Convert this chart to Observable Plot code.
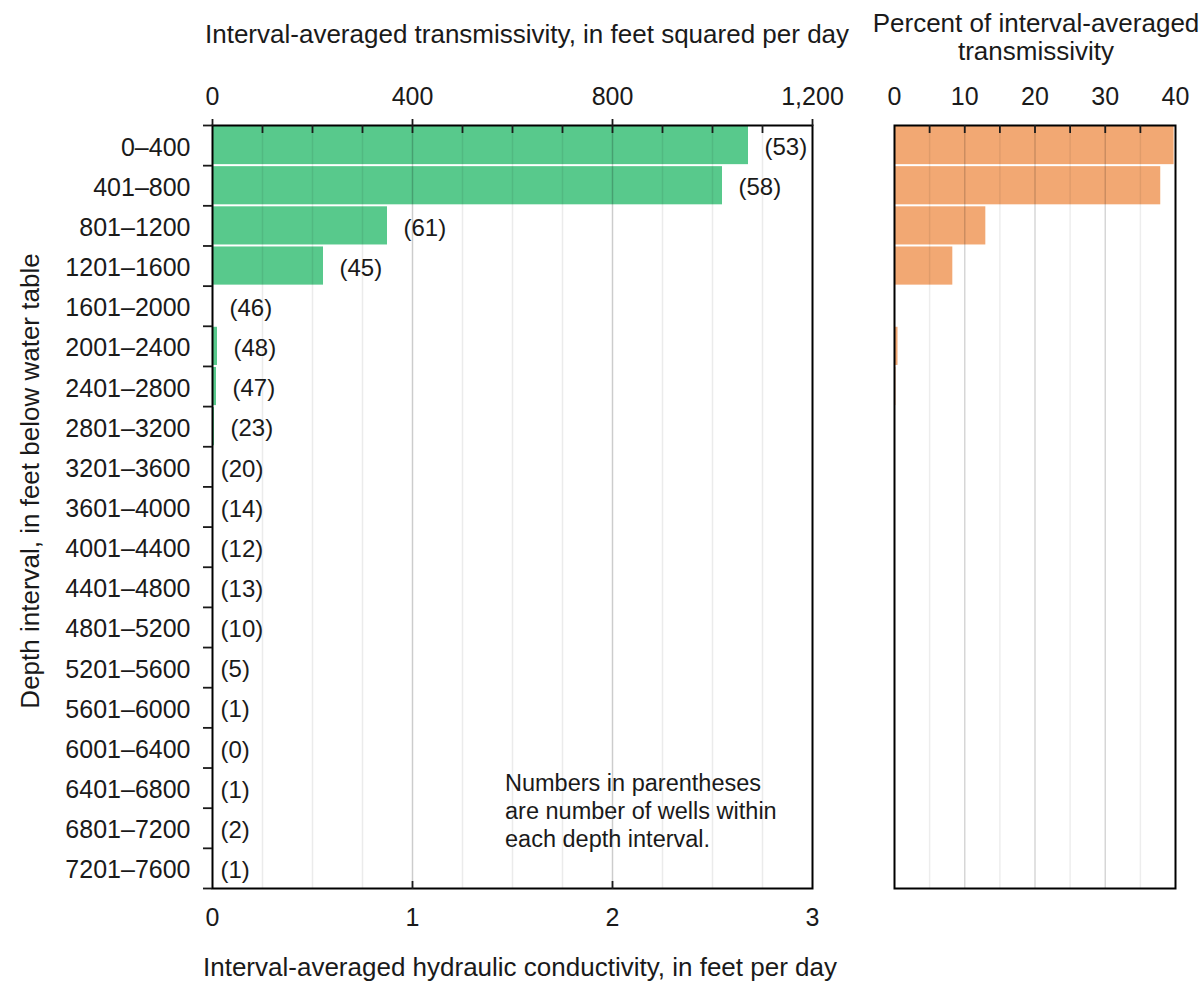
<!DOCTYPE html>
<html><head><meta charset="utf-8">
<script src="https://cdn.jsdelivr.net/npm/d3@7"></script>
<script src="https://cdn.jsdelivr.net/npm/@observablehq/plot@0.6"></script>
<style>
body{margin:0;background:#fff;font-family:"Liberation Sans",Arial,sans-serif;color:#1a1a1a}
#wrap{position:relative;width:1204px;height:984px;overflow:hidden;background:#fff}
.abs{position:absolute;white-space:nowrap;line-height:1}
#left,#right{position:absolute;top:0}
#left{left:0}
#right{left:850px}
</style></head><body>
<div id="wrap">
  <div id="left"></div>
  <div id="right"></div>
  <div class="abs" id="ttop" style="left:205px;top:21px;font-size:26px">Interval-averaged transmissivity, in feet squared per day</div>
  <div class="abs" id="tbot" style="left:203px;top:954px;font-size:26px">Interval-averaged hydraulic conductivity, in feet per day</div>
  <div class="abs" id="tpct1" style="left:866px;top:10px;width:340px;text-align:center;font-size:26px">Percent of interval-averaged</div>
  <div class="abs" id="tpct2" style="left:866px;top:38px;width:340px;text-align:center;font-size:26px">transmissivity</div>
  <div class="abs" id="ty" style="left:-220px;top:468px;width:500px;text-align:center;font-size:26px;transform:rotate(-90deg);transform-origin:250px 13px">Depth interval, in feet below water table</div>
  <div class="abs" id="note" style="left:505px;top:769px;font-size:23.5px;line-height:28px">Numbers in parentheses<br>are number of wells within<br>each depth interval.</div>
</div>
<script>
// ---- data ----
const depthIntervals = ["0–400","401–800","801–1200","1201–1600","1601–2000","2001–2400","2401–2800","2801–3200","3201–3600","3601–4000","4001–4400","4401–4800","4801–5200","5201–5600","5601–6000","6001–6400","6401–6800","6801–7200","7201–7600"];
const transmissivity = [1072, 1020, 350, 222, 2, 10, 8, 4, 0.4, 0.3, 0.2, 0.2, 0.1, 0.1, 0, 0, 0, 0, 0];
const percentOfTotal = [39.8, 37.9, 13.0, 8.3, 0.05, 0.5, 0.2, 0.1, 0, 0, 0, 0, 0, 0, 0, 0, 0, 0, 0];
const wellCounts = [53, 58, 61, 45, 46, 48, 47, 23, 20, 14, 12, 13, 10, 5, 1, 0, 1, 2, 1];
const transTicks = [0, 400, 800, 1200];
const transMinorStep = 100;
const conductivityTicks = [0, 1, 2, 3];
const percentTicks = [0, 10, 20, 30, 40];
const percentMinorStep = 5;
const intervalThickness = 400; // feet; conductivity = transmissivity / thickness

const GREEN = "#58c98c";
const ORANGE = "#f2a873";
const FONT = "'Liberation Sans', Arial, sans-serif";

const rows = depthIntervals.map((label, i) => {
  const bottom = +label.split("–")[1];
  const top = i === 0 ? 0 : +depthIntervals[i - 1].split("–")[1];
  return {label, top, bottom, mid: (top + bottom) / 2, t: transmissivity[i], pct: percentOfTotal[i], n: wellCounts[i]};
});
const depthMax = rows[rows.length - 1].bottom;
const boundaries = [0, ...rows.map(d => d.bottom)];
const transMax = transTicks[transTicks.length - 1];
const transMinor = d3.range(transMinorStep, transMax, transMinorStep);
const pctMax = percentTicks[percentTicks.length - 1];
const pctMinor = d3.range(percentMinorStep, pctMax, percentMinorStep);
const blank = () => "";

const left = Plot.plot({
  width: 850, height: 940,
  marginLeft: 212, marginRight: 38, marginTop: 125, marginBottom: 52,
  style: {fontFamily: FONT, fontSize: "24px", color: "#1a1a1a", background: "transparent", overflow: "visible"},
  x: {domain: [0, transMax], label: null},
  y: {domain: [0, depthMax], reverse: true, axis: null, label: null},
  marks: [
    Plot.rectX(rows, {x: "t", y1: "top", y2: "bottom", fill: GREEN, insetTop: 1, insetBottom: 1}),
    Plot.ruleX(transMinor.filter(d => !transTicks.includes(d)), {stroke: "#000", strokeOpacity: 0.08, strokeWidth: 1.5}),
    Plot.ruleX(transTicks.slice(1, -1), {stroke: "#000", strokeOpacity: 0.2, strokeWidth: 1.5}),
    Plot.frame({stroke: "#000", strokeWidth: 2}),
    // top axis: labels + outward major ticks
    Plot.axisX({anchor: "top", ticks: transTicks, tickSize: 7, tickPadding: 14, tickFormat: d3.format(","), fontSize: 25, strokeWidth: 1.8, label: null}),
    // top axis: inward minor ticks
    Plot.axisX({anchor: "bottom", frameAnchor: "top", ticks: transMinor, tickSize: 8, tickFormat: blank, strokeWidth: 1.8, label: null}),
    // bottom axis: hydraulic conductivity (= transmissivity / interval thickness)
    Plot.axisX({anchor: "bottom", ticks: conductivityTicks.map(k => k * intervalThickness), tickSize: 0, tickPadding: 20, tickFormat: d => d / intervalThickness, fontSize: 25, label: null}),
    Plot.axisX({anchor: "top", frameAnchor: "bottom", ticks: conductivityTicks.slice(1, -1).map(k => k * intervalThickness), tickSize: 8, tickFormat: blank, strokeWidth: 1.8, label: null}),
    // y axis ticks at interval boundaries
    Plot.axisY({anchor: "left", ticks: boundaries, tickSize: 9, tickFormat: blank, strokeWidth: 1.8, label: null}),
    Plot.text(rows, {y: "mid", text: "label", frameAnchor: "left", textAnchor: "end", dx: -22, dy: 2, fontSize: 25, fill: "#1a1a1a"}),
    // well counts
    Plot.text(rows.filter(d => d.t >= 1), {x: "t", y: "mid", text: d => `(${d.n})`, textAnchor: "start", dx: 16, dy: 2, fontSize: 24, fill: "#1a1a1a"}),
    Plot.text(rows.filter(d => d.t < 1), {x: "t", y: "mid", text: d => `(${d.n})`, textAnchor: "start", dx: 8, dy: 2, fontSize: 24, fill: "#1a1a1a"})
  ]
});
document.getElementById("left").append(left);

const right = Plot.plot({
  width: 354, height: 940,
  marginLeft: 44, marginRight: 29, marginTop: 125, marginBottom: 52,
  style: {fontFamily: FONT, fontSize: "24px", color: "#1a1a1a", background: "transparent", overflow: "visible"},
  x: {domain: [0, pctMax], label: null},
  y: {domain: [0, depthMax], reverse: true, axis: null, label: null},
  marks: [
    Plot.rectX(rows, {x: "pct", y1: "top", y2: "bottom", fill: ORANGE, insetTop: 1, insetBottom: 1}),
    Plot.ruleX(pctMinor.filter(d => !percentTicks.includes(d)), {stroke: "#000", strokeOpacity: 0.07, strokeWidth: 1.5}),
    Plot.ruleX(percentTicks.slice(1, -1), {stroke: "#000", strokeOpacity: 0.16, strokeWidth: 1.5}),
    Plot.frame({stroke: "#000", strokeWidth: 2}),
    Plot.axisX({anchor: "top", ticks: percentTicks, tickSize: 0, tickPadding: 21, fontSize: 25, label: null}),
    Plot.axisX({anchor: "bottom", frameAnchor: "top", ticks: pctMinor, tickSize: 8, tickFormat: blank, strokeWidth: 1.8, label: null})
  ]
});
document.getElementById("right").append(right);
</script>
</body></html>
